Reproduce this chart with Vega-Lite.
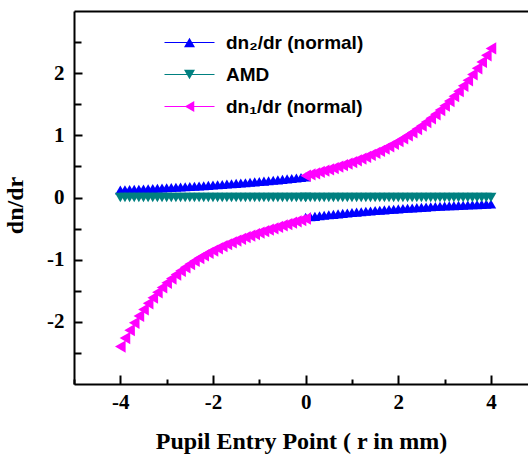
{
"$schema":"https://vega.github.io/schema/vega-lite/v6.json",
"width":454,"height":373,
"autosize":{"type":"none"},
"padding":{"left":74,"top":11,"right":0,"bottom":75},
"background":"white",
"config":{
 "view":{"stroke":null},
 "axis":{"grid":false,"domainColor":"black","domainWidth":2,"tickColor":"black","tickWidth":2,"labelOverlap":false,
  "labelFont":"Liberation Serif","labelFontWeight":"bold","labelFontSize":21,"labelColor":"black",
  "titleFont":"Liberation Serif","titleFontWeight":"bold","titleFontSize":24,"titleColor":"black"}
},
"data":{"values":[
{"r":-4.0,"dn2":0.121,"amd":0,"dn1":-2.398},
{"r":-3.9,"dn2":0.124,"amd":0,"dn1":-2.262},
{"r":-3.8,"dn2":0.128,"amd":0,"dn1":-2.135},
{"r":-3.7,"dn2":0.131,"amd":0,"dn1":-2.016},
{"r":-3.6,"dn2":0.134,"amd":0,"dn1":-1.905},
{"r":-3.5,"dn2":0.138,"amd":0,"dn1":-1.800},
{"r":-3.4,"dn2":0.141,"amd":0,"dn1":-1.703},
{"r":-3.3,"dn2":0.145,"amd":0,"dn1":-1.611},
{"r":-3.2,"dn2":0.148,"amd":0,"dn1":-1.526},
{"r":-3.1,"dn2":0.152,"amd":0,"dn1":-1.447},
{"r":-3.0,"dn2":0.156,"amd":0,"dn1":-1.373},
{"r":-2.9,"dn2":0.160,"amd":0,"dn1":-1.303},
{"r":-2.8,"dn2":0.164,"amd":0,"dn1":-1.239},
{"r":-2.7,"dn2":0.168,"amd":0,"dn1":-1.179},
{"r":-2.6,"dn2":0.172,"amd":0,"dn1":-1.122},
{"r":-2.5,"dn2":0.177,"amd":0,"dn1":-1.070},
{"r":-2.4,"dn2":0.181,"amd":0,"dn1":-1.021},
{"r":-2.3,"dn2":0.186,"amd":0,"dn1":-0.975},
{"r":-2.2,"dn2":0.190,"amd":0,"dn1":-0.932},
{"r":-2.1,"dn2":0.195,"amd":0,"dn1":-0.891},
{"r":-2.0,"dn2":0.200,"amd":0,"dn1":-0.854},
{"r":-1.9,"dn2":0.205,"amd":0,"dn1":-0.818},
{"r":-1.8,"dn2":0.210,"amd":0,"dn1":-0.784},
{"r":-1.7,"dn2":0.216,"amd":0,"dn1":-0.752},
{"r":-1.6,"dn2":0.221,"amd":0,"dn1":-0.722},
{"r":-1.5,"dn2":0.227,"amd":0,"dn1":-0.693},
{"r":-1.4,"dn2":0.233,"amd":0,"dn1":-0.666},
{"r":-1.3,"dn2":0.238,"amd":0,"dn1":-0.639},
{"r":-1.2,"dn2":0.244,"amd":0,"dn1":-0.614},
{"r":-1.1,"dn2":0.251,"amd":0,"dn1":-0.589},
{"r":-1.0,"dn2":0.257,"amd":0,"dn1":-0.565},
{"r":-0.9,"dn2":0.264,"amd":0,"dn1":-0.541},
{"r":-0.8,"dn2":0.270,"amd":0,"dn1":-0.518},
{"r":-0.7,"dn2":0.277,"amd":0,"dn1":-0.495},
{"r":-0.6,"dn2":0.284,"amd":0,"dn1":-0.473},
{"r":-0.5,"dn2":0.291,"amd":0,"dn1":-0.450},
{"r":-0.4,"dn2":0.299,"amd":0,"dn1":-0.428},
{"r":-0.3,"dn2":0.306,"amd":0,"dn1":-0.406},
{"r":-0.2,"dn2":0.314,"amd":0,"dn1":-0.384},
{"r":-0.1,"dn2":0.322,"amd":0,"dn1":-0.362},
{"r":0.0,"dn2":0.330,"amd":0,"dn1":-0.340},
{"r":0.0,"dn2":-0.320,"amd":0,"dn1":0.350},
{"r":0.1,"dn2":-0.311,"amd":0,"dn1":0.370},
{"r":0.2,"dn2":-0.303,"amd":0,"dn1":0.390},
{"r":0.3,"dn2":-0.294,"amd":0,"dn1":0.411},
{"r":0.4,"dn2":-0.286,"amd":0,"dn1":0.431},
{"r":0.5,"dn2":-0.278,"amd":0,"dn1":0.452},
{"r":0.6,"dn2":-0.271,"amd":0,"dn1":0.474},
{"r":0.7,"dn2":-0.263,"amd":0,"dn1":0.497},
{"r":0.8,"dn2":-0.256,"amd":0,"dn1":0.520},
{"r":0.9,"dn2":-0.249,"amd":0,"dn1":0.544},
{"r":1.0,"dn2":-0.242,"amd":0,"dn1":0.570},
{"r":1.1,"dn2":-0.235,"amd":0,"dn1":0.596},
{"r":1.2,"dn2":-0.229,"amd":0,"dn1":0.624},
{"r":1.3,"dn2":-0.222,"amd":0,"dn1":0.653},
{"r":1.4,"dn2":-0.216,"amd":0,"dn1":0.684},
{"r":1.5,"dn2":-0.210,"amd":0,"dn1":0.716},
{"r":1.6,"dn2":-0.204,"amd":0,"dn1":0.750},
{"r":1.7,"dn2":-0.199,"amd":0,"dn1":0.786},
{"r":1.8,"dn2":-0.193,"amd":0,"dn1":0.824},
{"r":1.9,"dn2":-0.188,"amd":0,"dn1":0.864},
{"r":2.0,"dn2":-0.183,"amd":0,"dn1":0.906},
{"r":2.1,"dn2":-0.178,"amd":0,"dn1":0.951},
{"r":2.2,"dn2":-0.173,"amd":0,"dn1":0.998},
{"r":2.3,"dn2":-0.168,"amd":0,"dn1":1.047},
{"r":2.4,"dn2":-0.163,"amd":0,"dn1":1.100},
{"r":2.5,"dn2":-0.159,"amd":0,"dn1":1.155},
{"r":2.6,"dn2":-0.155,"amd":0,"dn1":1.213},
{"r":2.7,"dn2":-0.150,"amd":0,"dn1":1.274},
{"r":2.8,"dn2":-0.146,"amd":0,"dn1":1.338},
{"r":2.9,"dn2":-0.142,"amd":0,"dn1":1.406},
{"r":3.0,"dn2":-0.138,"amd":0,"dn1":1.477},
{"r":3.1,"dn2":-0.134,"amd":0,"dn1":1.551},
{"r":3.2,"dn2":-0.131,"amd":0,"dn1":1.629},
{"r":3.3,"dn2":-0.127,"amd":0,"dn1":1.711},
{"r":3.4,"dn2":-0.124,"amd":0,"dn1":1.796},
{"r":3.5,"dn2":-0.120,"amd":0,"dn1":1.886},
{"r":3.6,"dn2":-0.117,"amd":0,"dn1":1.980},
{"r":3.7,"dn2":-0.114,"amd":0,"dn1":2.078},
{"r":3.8,"dn2":-0.110,"amd":0,"dn1":2.180},
{"r":3.9,"dn2":-0.107,"amd":0,"dn1":2.287},
{"r":4.0,"dn2":-0.104,"amd":0,"dn1":2.398}
]},
"layer":[
 {"mark":{"type":"point","filled":true,"shape":"triangle-up","color":"#0000FF","size":110,"opacity":1},
  "encoding":{
   "x":{"field":"r","type":"quantitative","scale":{"domain":[-5,4.8],"nice":false,"zero":false},
    "axis":{"orient":"bottom","values":[-5,-4,-3,-2,-1,0,1,2,3,4],
     "labelExpr":"datum.value % 2 === 0 ? '' + datum.value : ''",
     "tickSize":{"condition":{"test":"datum.value % 2 === 0","value":-9},"value":-5},
     "labelPadding":16,"title":"Pupil Entry Point ( r in mm)","titlePadding":13}},
   "y":{"field":"dn2","type":"quantitative","title":"dn/dr","scale":{"domain":[-3,3],"nice":false,"zero":false},
    "axis":{"orient":"left","values":[-2.5,-2,-1.5,-1,-0.5,0,0.5,1,1.5,2,2.5],
     "labelExpr":"datum.value % 1 === 0 ? '' + datum.value : ''",
     "tickSize":{"condition":{"test":"datum.value % 1 === 0","value":-8},"value":-7},
     "labelPadding":18,"titleX":-47,"titleY":194}}
  }},
 {"mark":{"type":"point","filled":true,"shape":"triangle-down","color":"#008080","size":120,"opacity":1},
  "encoding":{
   "x":{"field":"r","type":"quantitative","axis":null},
   "y":{"field":"amd","type":"quantitative","axis":null}
  }},
 {"mark":{"type":"point","filled":true,"shape":"triangle-left","color":"#FF00FF","size":150,"opacity":1},
  "encoding":{
   "x":{"field":"r","type":"quantitative","axis":{"orient":"top","ticks":false,"labels":false,"title":null,"domain":true}},
   "y":{"field":"dn1","type":"quantitative","axis":null}
  }},
 {"transform":[{"filter":"false"}],
  "mark":{"type":"point","filled":true,"opacity":1},
  "encoding":{
   "color":{"field":"s","type":"nominal",
    "scale":{"domain":["dn2","amd","dn1"],"range":["#0000FF","#008080","#FF00FF"]},
    "legend":{"orient":"none","legendX":106,"legendY":22,"title":null,"padding":0,
     "labelExpr":"datum.value === 'dn2' ? 'dn₂/dr (normal)' : datum.value === 'amd' ? 'AMD' : 'dn₁/dr (normal)'",
     "labelFont":"Liberation Sans","labelFontWeight":"bold","labelFontSize":19,"labelColor":"black",
     "labelOffset":27,"rowPadding":12,"symbolStrokeWidth":0,"symbolSize":100,"symbolOffset":0}},
   "shape":{"field":"s","type":"nominal",
    "scale":{"domain":["dn2","amd","dn1"],"range":[
     "M-5,-0.12H5V0.12H-5ZM0,-0.95L1.1,0.95L-1.1,0.95Z",
     "M-5,-0.12H5V0.12H-5ZM-1.1,-0.95L1.1,-0.95L0,0.95Z",
     "M-5,-0.12H5V0.12H-5ZM-0.95,0L0.95,-1.1L0.95,1.1Z"]}}
  }}
],
"resolve":{"axis":{"x":"independent","y":"independent"}}
}
